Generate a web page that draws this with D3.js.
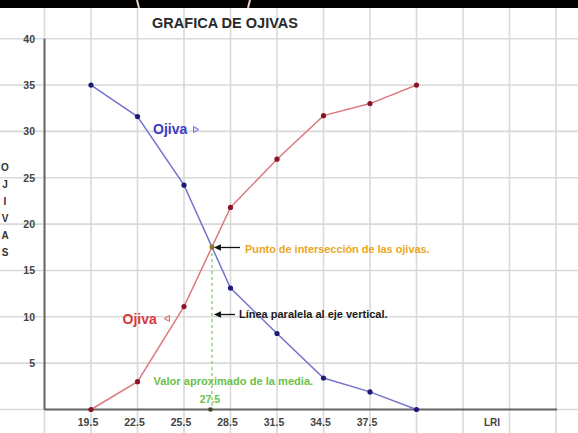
<!DOCTYPE html>
<html>
<head>
<meta charset="utf-8">
<script src="https://cdn.jsdelivr.net/npm/d3@7"></script>
<style>
  html, body { margin: 0; padding: 0; background: #fff; }
  svg { display: block; font-family: "Liberation Sans", Arial, sans-serif; }
</style>
</head>
<body>
<svg id="chart" width="578" height="433"></svg>
<script>
// ---- data ----
const classMarks = [19.5, 22.5, 25.5, 28.5, 31.5, 34.5, 37.5, 40.5];
const ojivaMenosQue = [0, 3, 11.1, 21.8, 27.0, 31.7, 33.0, 35];   // red, ascending
const ojivaMasQue   = [35, 31.6, 24.2, 13.1, 8.2, 3.4, 1.9, 0];   // blue, descending
const xTickLabels = ["19.5", "22.5", "25.5", "28.5", "31.5", "34.5", "37.5"];
const yTickValues = [5, 10, 15, 20, 25, 30, 35, 40];
const yTitleLetters = ["O", "J", "I", "V", "A", "S"];

const W = 578, H = 433;
const svg = d3.select("#chart");

const x = d3.scaleLinear().domain([16.5, 49.5]).range([44.5, 556]);
const y = d3.scaleLinear().domain([0, 40]).range([409.5, 38.7]);

// grid
const gridV = d3.range(16.5, 52, 3);
const gridH = d3.range(0, 41, 5);
svg.append("g").selectAll("line").data(gridV).join("line")
  .attr("x1", d => x(d)).attr("x2", d => x(d))
  .attr("y1", 0).attr("y2", H)
  .attr("stroke", "#d9d9d9").attr("stroke-width", 1.6);
svg.append("g").selectAll("line").data(gridH).join("line")
  .attr("x1", 0).attr("x2", W)
  .attr("y1", d => y(d)).attr("y2", d => y(d))
  .attr("stroke", "#d9d9d9").attr("stroke-width", 1.6);

// top black bar (screenshot artifact)
svg.append("rect").attr("x", 0).attr("y", 0).attr("width", W).attr("height", 8).attr("fill", "#000");
svg.append("line").attr("x1", 137).attr("x2", 139).attr("y1", 0).attr("y2", 8)
  .attr("stroke", "#e6d2c8").attr("stroke-width", 2);
svg.append("line").attr("x1", 250).attr("x2", 248).attr("y1", 0).attr("y2", 8)
  .attr("stroke", "#e6d2c8").attr("stroke-width", 2);

// axes
svg.append("line").attr("x1", x(16.5)).attr("x2", x(16.5)).attr("y1", y(40)).attr("y2", y(0))
  .attr("stroke", "#666").attr("stroke-width", 2);
svg.append("line").attr("x1", x(16.5)).attr("x2", 557).attr("y1", y(0)).attr("y2", y(0))
  .attr("stroke", "#666").attr("stroke-width", 2);

// y tick labels
svg.append("g").selectAll("text").data(yTickValues).join("text")
  .attr("x", 35).attr("y", d => y(d) + 4)
  .attr("text-anchor", "end")
  .attr("font-size", 10.5).attr("font-weight", "bold").attr("fill", "#444")
  .text(d => d);

// x tick labels
svg.append("g").selectAll("text").data(xTickLabels).join("text")
  .attr("x", d => x(+d) - 3).attr("y", 426)
  .attr("text-anchor", "middle")
  .attr("font-size", 10.5).attr("font-weight", "bold").attr("fill", "#444")
  .text(d => d);
svg.append("text").attr("x", 492).attr("y", 426).attr("text-anchor", "middle")
  .attr("font-size", 10).attr("font-weight", "bold").attr("fill", "#444").text("LRI");

// y title (stacked letters)
svg.append("g").selectAll("text").data(yTitleLetters).join("text")
  .attr("x", 5).attr("y", (d, i) => 171 + i * 17)
  .attr("text-anchor", "middle")
  .attr("font-size", 10).attr("font-weight", "bold").attr("fill", "#333")
  .text(d => d);

// title
svg.append("text").attr("x", 225).attr("y", 28).attr("text-anchor", "middle")
  .attr("font-size", 14.5).attr("font-weight", "bold").attr("fill", "#2a2a2a")
  .text("GRAFICA DE OJIVAS");

// intersection (computed from the segments)
let inter = null;
for (let i = 0; i < classMarks.length - 1; i++) {
  const d0 = ojivaMasQue[i] - ojivaMenosQue[i];
  const d1 = ojivaMasQue[i + 1] - ojivaMenosQue[i + 1];
  if (d0 >= 0 && d1 < 0) {
    const t = d0 / (d0 - d1);
    inter = {
      x: classMarks[i] + t * (classMarks[i + 1] - classMarks[i]),
      y: ojivaMenosQue[i] + t * (ojivaMenosQue[i + 1] - ojivaMenosQue[i])
    };
    break;
  }
}

// green dashed vertical line
svg.append("line").attr("x1", x(inter.x)).attr("x2", x(inter.x))
  .attr("y1", y(inter.y)).attr("y2", y(0))
  .attr("stroke", "#6fcf5f").attr("stroke-width", 1.2).attr("stroke-dasharray", "3,3");

// lines
const line = d3.line().x(d => x(d[0])).y(d => y(d[1]));
const redData = classMarks.map((c, i) => [c, ojivaMenosQue[i]]);
const blueData = classMarks.map((c, i) => [c, ojivaMasQue[i]]);
svg.append("path").datum(redData).attr("d", line)
  .attr("fill", "none").attr("stroke", "#dc7a80").attr("stroke-width", 1.5);
svg.append("path").datum(blueData).attr("d", line)
  .attr("fill", "none").attr("stroke", "#7474d0").attr("stroke-width", 1.5);

svg.append("g").selectAll("circle").data(redData).join("circle")
  .attr("cx", d => x(d[0])).attr("cy", d => y(d[1])).attr("r", 2.6).attr("fill", "#8a1428");
svg.append("g").selectAll("circle").data(blueData).join("circle")
  .attr("cx", d => x(d[0])).attr("cy", d => y(d[1])).attr("r", 2.6).attr("fill", "#1c1c78");

// intersection marker and dot on x axis
svg.append("circle").attr("cx", x(inter.x)).attr("cy", y(inter.y)).attr("r", 2.5).attr("fill", "#8a7a20");
svg.append("circle").attr("cx", x(inter.x) - 1.5).attr("cy", y(0)).attr("r", 2.3).attr("fill", "#3a4a20");

// arrows
function arrow(x1, x2, yy) {
  svg.append("line").attr("x1", x1).attr("x2", x2 + 5).attr("y1", yy).attr("y2", yy)
    .attr("stroke", "#111").attr("stroke-width", 1.3);
  svg.append("path")
    .attr("d", `M${x2},${yy} L${x2 + 7},${yy - 3.2} L${x2 + 7},${yy + 3.2} Z`)
    .attr("fill", "#111");
}
arrow(240, x(inter.x) + 2, y(inter.y) + 0.5);
arrow(235, x(inter.x) + 2, 314.5);

// annotations
svg.append("text").attr("x", 245).attr("y", 252.5).attr("font-size", 10.9).attr("font-weight", "bold")
  .attr("fill", "#eaa61c").text("Punto de intersección de las ojivas.");
svg.append("text").attr("x", 239).attr("y", 318).attr("font-size", 11).attr("font-weight", "bold")
  .attr("fill", "#1a1a1a").text("Línea paralela al eje vertical.");
svg.append("text").attr("x", 153.5).attr("y", 385).attr("font-size", 11.1).attr("font-weight", "bold")
  .attr("fill", "#6cc04a").text("Valor aproximado de la media.");
svg.append("text").attr("x", x(inter.x) - 2).attr("y", 402.5).attr("text-anchor", "middle")
  .attr("font-size", 10.5).attr("font-weight", "bold").attr("fill", "#6cc04a").text("27.5");

// legend labels "Ojiva"
svg.append("text").attr("x", 153).attr("y", 133.5).attr("font-size", 14).attr("font-weight", "bold")
  .attr("fill", "#3c3cc8").text("Ojiva");
svg.append("path").attr("d", "M193.5,126.5 L199,129.5 L193.5,132.5 Z")
  .attr("fill", "#d8d8f4").attr("stroke", "#6a6ad0").attr("stroke-width", 0.9);
svg.append("text").attr("x", 122.5).attr("y", 323.5).attr("font-size", 14).attr("font-weight", "bold")
  .attr("fill", "#d43a3a").text("Ojiva");
svg.append("path").attr("d", "M169.5,315.5 L164,318.5 L169.5,321.5 Z")
  .attr("fill", "#f6d8d8").attr("stroke", "#d86060").attr("stroke-width", 0.9);
</script>
</body>
</html>
